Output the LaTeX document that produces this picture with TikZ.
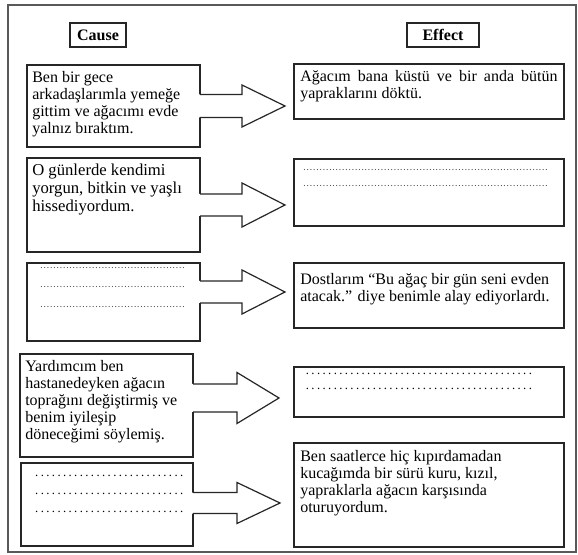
\documentclass[tikz,border=0pt]{standalone}
\usepackage{fontspec}
\setmainfont{Liberation Serif}
\usetikzlibrary{calc}

\tikzset{
  boxline/.style={draw=black!85, line width=0.9pt},
  causebox/.style={boxline, anchor=north west, inner sep=0pt, outer sep=0pt, minimum width=129.75pt},
  effectbox/.style={boxline, anchor=north west, inner sep=0pt, outer sep=0pt, minimum width=202.5pt},
  headbox/.style={boxline, anchor=north west, inner sep=0pt, outer sep=0pt, font=\fontsize{12}{14}\selectfont\bfseries},
  boxtext/.style={anchor=north west, inner sep=0pt, align=left, font=\fontsize{12}{12.8}\selectfont},
}

% dot rows: fine and coarse leaders
\newcommand{\finedots}[1]{{\fontsize{5.5}{5.5}\selectfont\bfseries\color{black!75}\makebox[#1]{\dotfill}}}
\newcommand{\coarsedots}[1]{{\fontsize{9.5}{9.5}\selectfont\makebox[#1]{\dotfill}}}

% block arrow: cause node, tip, shaft half height, head half height, head length
\newcommand{\blockarrow}[5]{%
  \fill[white] ($(#1.east|-#2)+(-1.5,-#3)$) -- ($(#2)+(-#5,-#3)$) -- ($(#2)+(-#5,-#4)$) -- (#2)
    -- ($(#2)+(-#5,#4)$) -- ($(#2)+(-#5,#3)$) -- ($(#1.east|-#2)+(-1.5,#3)$) -- cycle;
  \draw[boxline] ($(#1.east|-#2)+(0,-#3)$) -- ($(#2)+(-#5,-#3)$) -- ($(#2)+(-#5,-#4)$) -- (#2)
    -- ($(#2)+(-#5,#4)$) -- ($(#2)+(-#5,#3)$) -- ($(#1.east|-#2)+(0,#3)$);
}

\begin{document}
\begin{tikzpicture}[x=0.75pt,y=0.75pt,yscale=-1,xscale=1]
\useasboundingbox (0,0) rectangle (578,555);

%Frame
\draw[draw=black!65, line width=1pt] (8,5) rectangle (576,552);

%Headers
\node[headbox, minimum width=42pt, minimum height=18pt] (cause) at (70,23) {Cause};
\node[headbox, minimum width=54pt, minimum height=18pt] (effect) at (407,23) {Effect};

%Cause boxes
\node[causebox, minimum height=61.5pt] (c1) at (27,65) {};
\node[causebox, minimum height=70.5pt] (c2) at (27,158) {};
\node[causebox, minimum height=58.5pt] (c3) at (27,263) {};
\node[causebox, minimum height=77.25pt] (c4) at (20,354) {};
\node[causebox, minimum width=129pt, minimum height=62.25pt] (c5) at (21,463) {};

%Effect boxes
\node[effectbox, minimum height=41.25pt] (e1) at (294,64) {};
\node[effectbox, minimum height=50.25pt] (e2) at (294,159) {};
\node[effectbox, minimum height=48.75pt] (e3) at (294,263) {};
\node[effectbox, minimum height=37.5pt] (e4) at (294,367) {};
\node[effectbox, minimum height=78pt] (e5) at (294,443) {};

%Arrow tips
\coordinate (t1) at (285,106);
\coordinate (t2) at (285,205);
\coordinate (t3) at (285,292);
\coordinate (t4) at (279,398);
\coordinate (t5) at (280,503);

\blockarrow{c1}{t1}{11.5}{21}{43}
\blockarrow{c2}{t2}{11}{22}{43}
\blockarrow{c3}{t3}{11}{22}{43}
\blockarrow{c4}{t4}{14}{25.5}{42}
\blockarrow{c5}{t5}{10.5}{20.5}{43}

% Cause texts
\node[boxtext] (c1t) at ($(c1.north west)+(5,6)$) {Ben bir gece\\arkadaşlarımla yemeğe\\gittim ve ağacımı evde\\yalnız bıraktım.};
\node[boxtext, font=\fontsize{12.5}{13.5}\selectfont] (c2t) at ($(c2.north west)+(5,6)$) {O günlerde kendimi\\yorgun, bitkin ve yaşlı\\hissediyordum.};
\node[boxtext, font=\fontsize{12}{14.5}\selectfont] (c3t) at ($(c3.north west)+(12,4)$) {\finedots{110pt}\\\finedots{110pt}\\\finedots{110pt}};
\node[boxtext] (c4t) at ($(c4.north west)+(5,6)$) {Yardımcım ben\\hastanedeyken ağacın\\toprağını değiştirmiş ve\\benim iyileşip\\döneceğimi söylemiş.};
\node[boxtext, font=\fontsize{12}{13.5}\selectfont] (c5t) at ($(c5.north west)+(12,12)$) {\coarsedots{114pt}\\\coarsedots{114pt}\\\coarsedots{114pt}};

% Effect texts
\node[boxtext, align=justify, text width=193pt] (e1t) at ($(e1.north west)+(6,6)$) {Ağacım bana küstü ve bir anda bütün\linebreak yapraklarını döktü.};
\node[boxtext, font=\fontsize{12}{12}\selectfont] (e2t) at ($(e2.north west)+(8,10)$) {\finedots{185pt}\\\finedots{185pt}};
\node[boxtext] (e3t) at ($(e3.north west)+(6,10)$) {Dostlarım “Bu ağaç bir gün seni evden\\atacak.” diye benimle alay ediyorlardı.};
\node[boxtext, font=\fontsize{12}{11.5}\selectfont] (e4t) at ($(e4.north west)+(8,6)$) {\coarsedots{175pt}\\\coarsedots{175pt}};
\node[boxtext] (e5t) at ($(e5.north west)+(6,7)$) {Ben saatlerce hiç kıpırdamadan\\kucağımda bir sürü kuru, kızıl,\\yapraklarla ağacın karşısında\\oturuyordum.};

\end{tikzpicture}
\end{document}
